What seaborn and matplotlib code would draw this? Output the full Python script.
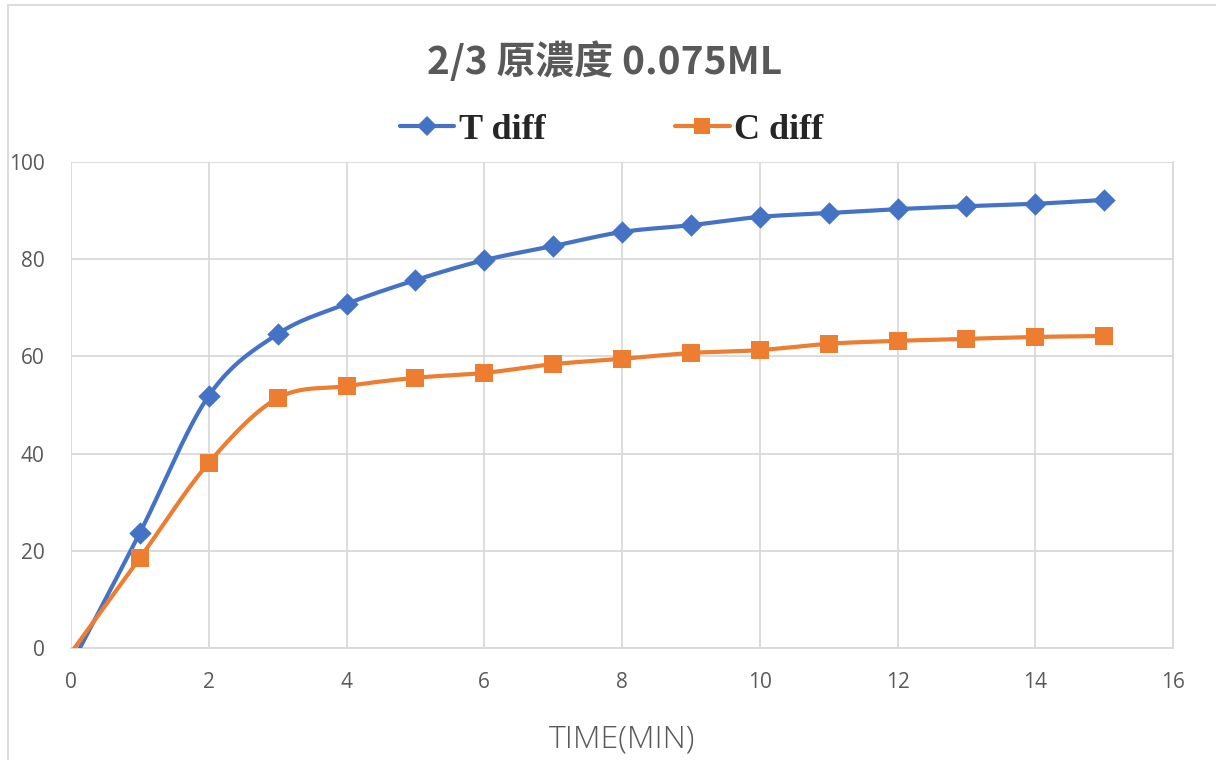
import numpy as np
import pandas as pd
import matplotlib
matplotlib.use("Agg")
import matplotlib.pyplot as plt
from matplotlib.lines import Line2D
from matplotlib.patches import Rectangle
import seaborn as sns

# Measured series (minutes vs. difference)
time_min = [0, 1, 2, 3, 4, 5, 6, 7, 8, 9, 10, 11, 12, 13, 14, 15]
t_diff = [-3.5, 23.7, 51.9, 64.6, 70.8, 75.7, 79.8, 82.7, 85.6, 87.0,
          88.7, 89.5, 90.3, 90.9, 91.4, 92.2]
c_diff = [-1.0, 18.5, 38.1, 51.4, 53.9, 55.6, 56.6, 58.4, 59.5, 60.7,
          61.3, 62.6, 63.2, 63.6, 64.0, 64.2]
series_names = ["T diff", "C diff"]
colors = ["#4472C4", "#ED7D31"]
markers = ["D", "s"]

title_text = "2/3 原濃度 0.075ML"
xlabel_text = "TIME(MIN)"
x_ticks = [0, 2, 4, 6, 8, 10, 12, 14, 16]
y_ticks = [0, 20, 40, 60, 80, 100]


def smooth(x, y, n=30):
    """Catmull-Rom spline through the points, like a spreadsheet 'smoothed line'."""
    x = np.asarray(x, float)
    y = np.asarray(y, float)
    px = np.concatenate([[2 * x[0] - x[1]], x, [2 * x[-1] - x[-2]]])
    py = np.concatenate([[2 * y[0] - y[1]], y, [2 * y[-1] - y[-2]]])
    xs, ys = [], []
    t = np.linspace(0, 1, n, endpoint=False)
    for i in range(1, len(px) - 2):
        for arr, out in ((px, xs), (py, ys)):
            p0, p1, p2, p3 = arr[i - 1], arr[i], arr[i + 1], arr[i + 2]
            out.extend(0.5 * ((2 * p1) + (-p0 + p2) * t
                              + (2 * p0 - 5 * p1 + 4 * p2 - p3) * t ** 2
                              + (-p0 + 3 * p1 - 3 * p2 + p3) * t ** 3))
    xs.append(x[-1])
    ys.append(y[-1])
    return np.array(xs), np.array(ys)


sns.set_theme(style="white")
plt.rcParams["font.family"] = ["Open Sans", "DejaVu Sans"]

fig = plt.figure(figsize=(12.16, 7.6), dpi=100)
ax = fig.add_axes([71 / 1216, 1 - 648 / 760, (1173 - 71) / 1216, (648 - 162) / 760])

for name, vals, col, mk in zip(series_names, [t_diff, c_diff], colors, markers):
    sx, sy = smooth(time_min, vals)
    curve = pd.DataFrame({"x": sx, "y": sy})
    pts = pd.DataFrame({"x": time_min, "y": vals})
    sns.lineplot(data=curve, x="x", y="y", ax=ax, color=col, linewidth=3,
                 sort=False, estimator=None, zorder=3)
    pts = pts[pts["y"] >= 0]
    sns.scatterplot(data=pts, x="x", y="y", ax=ax, color=col, marker=mk,
                    s=150 if mk == "s" else 130, edgecolor=col, linewidth=0,
                    zorder=4)

ax.set_xlim(0, 16)
ax.set_ylim(0, 100)
ax.set_xticks(x_ticks)
ax.set_yticks(y_ticks)
ax.grid(True, color="#D9D9D9", linewidth=1.3)
for s in ["top", "left"]:
    ax.spines[s].set_visible(False)
for s in ["bottom", "right"]:
    ax.spines[s].set_color("#D9D9D9")
    ax.spines[s].set_linewidth(1.3)
ax.tick_params(axis="both", length=0, labelsize=15, colors="#595959")
ax.tick_params(axis="x", pad=17)
ax.tick_params(axis="y", pad=19)
ax.set_xlabel(xlabel_text, fontsize=23, color="#595959", labelpad=22,
              fontweight="light")
ax.set_ylabel("")

fig.text(0.497, 1 - 62 / 760, title_text, ha="center", va="center",
         fontsize=28, fontweight="bold", color="#595959",
         family=["Noto Sans CJK TC", "DejaVu Sans"])

handles = [Line2D([], [], color=c, marker=m, linewidth=3, markersize=11 if m == "s" else 10,
                  markeredgewidth=0) for c, m in zip(colors, markers)]
fig.legend(handles, series_names, loc="center", bbox_to_anchor=(0.503, 1 - 130 / 760),
           ncol=2, frameon=False, handlelength=1.5, handletextpad=0.12,
           columnspacing=3.6,
           prop={"family": "Liberation Serif", "weight": "bold", "size": 26})

fig.patches.append(Rectangle((8 / 1216, -0.01), 1.02, 1.0 - 5 / 760 + 0.01,
                             transform=fig.transFigure, fill=False,
                             edgecolor="#D9D9D9", linewidth=1.3))

fig.savefig("out.png", dpi=100)
